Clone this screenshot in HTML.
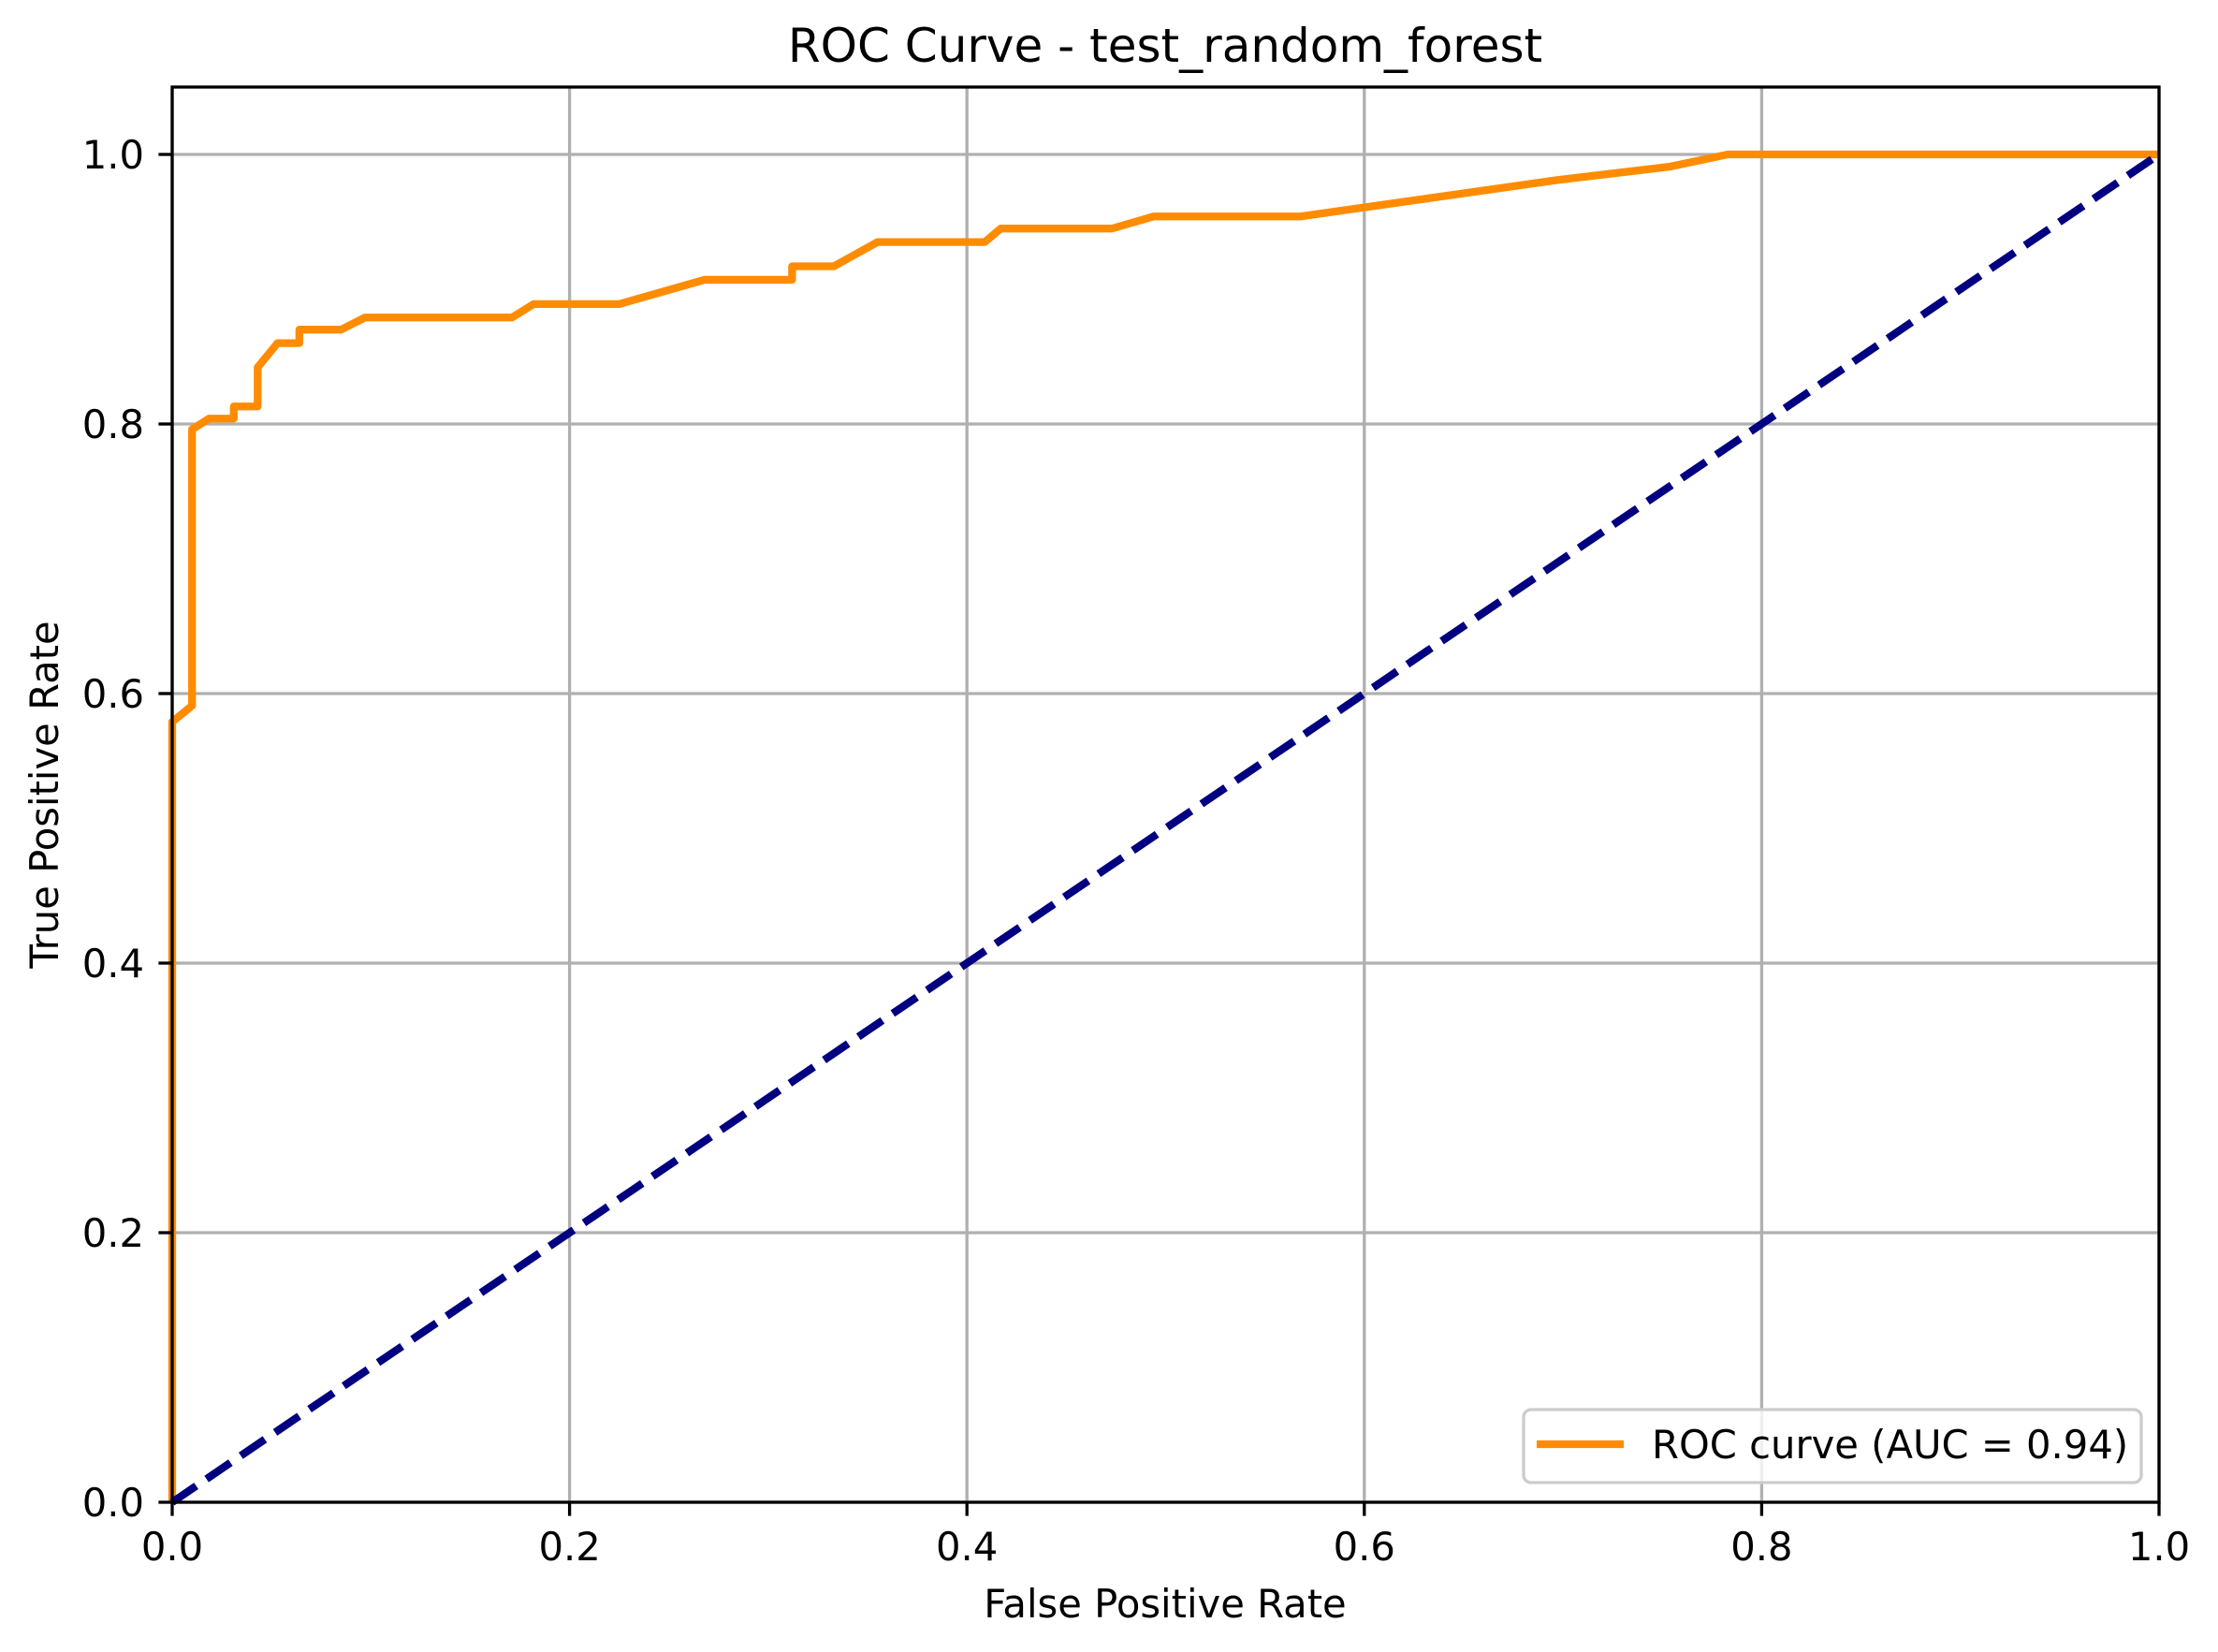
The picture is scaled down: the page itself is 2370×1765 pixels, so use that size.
<!DOCTYPE html>
<html><head><meta charset="utf-8">
<style>
html,body{margin:0;padding:0;background:#fff;}
svg{display:block;font-family:"DejaVu Sans","Liberation Sans",sans-serif;}
</style></head>
<body>
<svg id="chart" width="2370" height="1765" viewBox="0 0 2370 1765" xmlns="http://www.w3.org/2000/svg">
<rect width="2370" height="1765" fill="#fff"/>
<g id="grid"></g>
<g id="series"></g>
<rect x="184" y="93" width="2123" height="1512" fill="none" stroke="#000" stroke-width="3.3"/>
<g id="ticks"></g>
<text x="1245" y="66" font-size="50" text-anchor="middle">ROC Curve - test_random_forest</text>
<text x="1245" y="1728" font-size="41.7" text-anchor="middle">False Positive Rate</text>
<text x="0" y="0" font-size="41.7" text-anchor="middle" transform="translate(62,849) rotate(-90)">True Positive Rate</text>
<g>
<rect x="1628" y="1506" width="660" height="78" rx="8" fill="#fff" fill-opacity="0.8" stroke="#cccccc" stroke-width="3.3"/>
<line x1="1642" y1="1543" x2="1735" y2="1543" stroke="#ff8c00" stroke-width="8.3"/>
<text x="1765" y="1558" font-size="41.7">ROC curve (AUC = 0.94)</text>
</g>
</svg>
<script>
const fprValues = [0,0,0.010,0.010,0.0185,0.031,0.031,0.043,0.043,0.053,0.064,0.064,0.085,0.097,0.171,0.182,0.225,0.268,0.312,0.312,0.333,0.355,0.409,0.417,0.473,0.494,0.568,0.697,0.754,0.783,1];
const tprValues = [0,0.579,0.591,0.796,0.804,0.804,0.813,0.813,0.842,0.860,0.860,0.870,0.870,0.879,0.879,0.889,0.889,0.907,0.907,0.917,0.917,0.935,0.935,0.945,0.945,0.954,0.954,0.981,0.991,1,1];
const chanceX = [0,1];
const chanceY = [0,1];
const xTicks = [0,0.2,0.4,0.6,0.8,1.0];
const yTicks = [0,0.2,0.4,0.6,0.8,1.0];
const xTickLabels = ["0.0","0.2","0.4","0.6","0.8","1.0"];
const yTickLabels = ["0.0","0.2","0.4","0.6","0.8","1.0"];

const NS="http://www.w3.org/2000/svg";
const X0=184,X1=2307,YB=1605,YT=93;
function sx(v){return X0+v*(X1-X0);}
function sy(v){return YB-v/1.05*(YB-YT);}
function mk(tag,attrs,parent){const e=document.createElementNS(NS,tag);for(const k in attrs)e.setAttribute(k,attrs[k]);parent.appendChild(e);return e;}
const grid=document.getElementById('grid'),ticks=document.getElementById('ticks'),series=document.getElementById('series');
xTicks.forEach((v,i)=>{
  const g=mk('line',{x1:sx(v),x2:sx(v),y1:YT,y2:YB,stroke:'#b0b0b0','stroke-width':3.3},grid);
  
  
  const t=mk('line',{x1:sx(v),x2:sx(v),y1:YB,y2:YB+14.6,stroke:'#000','stroke-width':3.3},ticks);
  
  
  const l=mk('text',{x:sx(v),y:1667,'font-size':41.7,'text-anchor':'middle'},ticks);
  l.textContent=xTickLabels[i];
  
  
});
yTicks.forEach((v,i)=>{
  const g=mk('line',{x1:X0,x2:X1,y1:sy(v),y2:sy(v),stroke:'#b0b0b0','stroke-width':3.3},grid);
  
  
  const t=mk('line',{x1:X0-14.6,x2:X0,y1:sy(v),y2:sy(v),stroke:'#000','stroke-width':3.3},ticks);
  
  
  const l=mk('text',{x:154,y:sy(v)+15,'font-size':41.7,'text-anchor':'end'},ticks);
  l.textContent=yTickLabels[i];
  
  
});
const roc=mk('polyline',{points:fprValues.map((v,i)=>sx(v)+','+sy(tprValues[i])).join(' '),fill:'none',stroke:'#ff8c00','stroke-width':8.3,'stroke-linejoin':'round'},series);


const ch=mk('polyline',{points:chanceX.map((v,i)=>sx(v)+','+sy(chanceY[i])).join(' '),fill:'none',stroke:'#000080','stroke-width':8.3,'stroke-dasharray':'31 13.3'},series);


</script>
</body></html>
